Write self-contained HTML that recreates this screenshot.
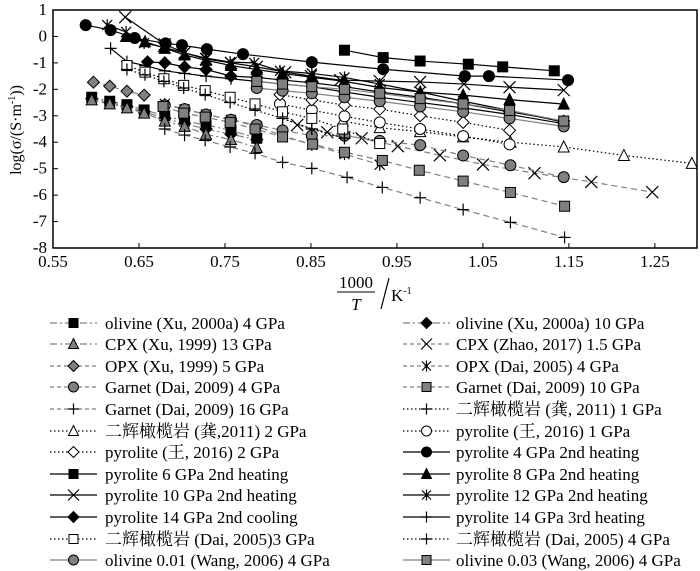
<!DOCTYPE html>
<html><head><meta charset="utf-8">
<style>
html,body{margin:0;padding:0;background:#fff;}
svg{display:block;font-family:"Liberation Serif","Noto Serif CJK SC",serif;}
</style></head>
<body>
<svg id="chart" width="700" height="571" viewBox="0 0 700 571" xmlns="http://www.w3.org/2000/svg">
  <g id="series-layer"></g>
  <rect x="53" y="10" width="644" height="238" fill="none" stroke="#000" stroke-width="1.5"/>
  <g id="axes"></g>
  <text transform="translate(21,130) rotate(-90)" text-anchor="middle" font-size="16">log(σ/(S·m<tspan font-size="10" dy="-6">-1</tspan><tspan dy="6">))</tspan></text>
  <g font-size="17">
    <text x="356" y="288" text-anchor="middle">1000</text>
    <line x1="337" y1="292" x2="375" y2="292" stroke="#000" stroke-width="1"/>
    <text x="356" y="310" text-anchor="middle" font-style="italic">T</text>
    <line x1="381" y1="309" x2="389" y2="278" stroke="#000" stroke-width="1.2"/>
    <text x="391" y="301">K<tspan font-size="10" dy="-7">-1</tspan></text>
  </g>
  <g id="legend"></g>
</svg>
<script>
const xTicks = [0.55,0.65,0.75,0.85,0.95,1.05,1.15,1.25];
const xTickLabels = ["0.55","0.65","0.75","0.85","0.95","1.05","1.15","1.25"];
const yTicks = [1,0,-1,-2,-3,-4,-5,-6,-7,-8];
const yTickLabels = ["1","0","-1","-2","-3","-4","-5","-6","-7","-8"];

// series data (x = 1000/T, y = log sigma)
const olXu4x = [0.595,0.616,0.636,0.656,0.68,0.703,0.728,0.757,0.787];
const olXu4y = [-2.3,-2.45,-2.58,-2.78,-3.0,-3.2,-3.35,-3.55,-3.85];
const olXu10x = [0.595,0.616,0.636,0.656,0.68,0.703,0.728,0.757,0.787];
const olXu10y = [-2.35,-2.5,-2.65,-2.85,-3.1,-3.3,-3.5,-3.7,-3.9];
const cpxXux = [0.595,0.616,0.636,0.656,0.68,0.703,0.728,0.757,0.787];
const cpxXuy = [-2.4,-2.55,-2.7,-2.9,-3.2,-3.4,-3.7,-3.9,-4.2];
const cpxZhx = [0.834,0.869,0.909,0.951,1.0,1.05,1.11,1.176,1.247];
const cpxZhy = [-3.35,-3.62,-3.85,-4.15,-4.49,-4.84,-5.17,-5.5,-5.89];
const opxXux = [0.597,0.616,0.636,0.656];
const opxXuy = [-1.73,-1.88,-2.07,-2.22];
const opxDax = [0.68,0.703,0.728,0.757,0.787,0.817,0.851,0.889,0.93];
const opxDay = [-2.55,-2.75,-2.95,-3.15,-3.4,-3.75,-4.1,-4.45,-4.85];
const gt4x = [0.68,0.703,0.728,0.757,0.787,0.817,0.851,0.889,0.93,0.977,1.027,1.082,1.144];
const gt4y = [-2.6,-2.75,-2.95,-3.15,-3.35,-3.55,-3.75,-3.75,-3.95,-4.11,-4.5,-4.87,-5.32];
const gt10x = [0.678,0.702,0.727,0.756,0.785,0.817,0.852,0.889,0.933,0.976,1.027,1.082,1.145];
const gt10y = [-2.65,-2.9,-3.05,-3.25,-3.5,-3.8,-4.07,-4.38,-4.69,-5.06,-5.47,-5.9,-6.42];
const gt16x = [0.68,0.703,0.727,0.756,0.785,0.817,0.851,0.892,0.933,0.977,1.027,1.082,1.145];
const gt16y = [-3.5,-3.73,-3.93,-4.18,-4.42,-4.76,-4.99,-5.33,-5.71,-6.1,-6.55,-7.03,-7.6];
const gong1x = [0.817,0.851,0.889];
const gong1y = [-3.1,-3.5,-3.85];
const gong2x = [0.887,0.93,0.977,1.027,1.082,1.144,1.214,1.293];
const gong2y = [-3.2,-3.45,-3.6,-3.8,-4.0,-4.18,-4.5,-4.8];
const wang1x = [0.814,0.851,0.889,0.93,0.977,1.027,1.081];
const wang1y = [-2.55,-2.79,-3.02,-3.25,-3.5,-3.77,-4.08];
const wang2x = [0.814,0.851,0.889,0.93,0.977,1.027,1.081];
const wang2y = [-2.2,-2.4,-2.6,-2.75,-3.0,-3.25,-3.55];
const p4x = [0.588,0.617,0.645,0.681,0.70,0.729,0.771,0.851,0.934,1.029,1.057,1.149];
const p4y = [0.43,0.24,-0.06,-0.26,-0.33,-0.48,-0.67,-0.97,-1.24,-1.5,-1.5,-1.65];
const p6x = [0.889,0.934,0.977,1.033,1.073,1.133];
const p6y = [-0.52,-0.8,-0.93,-1.05,-1.15,-1.3];
const p8x = [0.635,0.657,0.68,0.703,0.728,0.757,0.787,0.817,0.852,0.889,0.93,0.977,1.027,1.081,1.144];
const p8y = [0.0,-0.2,-0.45,-0.7,-0.9,-1.1,-1.25,-1.4,-1.55,-1.7,-1.93,-2.1,-2.22,-2.39,-2.56];
const p10x = [0.634,0.68,0.703,0.728,0.757,0.787,0.82,0.85,0.884,0.93,0.977,1.028,1.081,1.144];
const p10y = [0.73,-0.3,-0.62,-0.85,-1.0,-1.15,-1.35,-1.5,-1.65,-1.69,-1.72,-1.8,-1.92,-2.03];
const p12x = [0.613,0.635,0.656,0.678,0.703,0.728,0.756,0.784,0.814,0.851,0.889,0.93,0.977,1.027,1.081,1.144];
const p12y = [0.43,0.17,-0.25,-0.4,-0.63,-0.82,-0.97,-1.0,-1.3,-1.4,-1.55,-1.8,-2.1,-2.45,-2.8,-3.24];
const p14cx = [0.66,0.68,0.703,0.728,0.757,0.787,0.817,0.851,0.889,0.93,0.977,1.027,1.081,1.144];
const p14cy = [-0.96,-1.0,-1.15,-1.25,-1.5,-1.55,-1.65,-1.75,-1.9,-2.1,-2.3,-2.55,-2.85,-3.2];
const p14hx = [0.617,0.636,0.657,0.68,0.703,0.728,0.757,0.787,0.817,0.851,0.889,0.93,0.977,1.027,1.081,1.144];
const p14hy = [-0.45,-0.95,-1.1,-1.3,-1.4,-1.5,-1.6,-1.7,-1.8,-1.9,-2.1,-2.3,-2.5,-2.7,-2.95,-3.3];
const dai3x = [0.636,0.657,0.679,0.702,0.727,0.756,0.785,0.817,0.851,0.887,0.93];
const dai3y = [-1.1,-1.35,-1.6,-1.85,-2.05,-2.3,-2.55,-2.85,-3.1,-3.5,-4.05];
const dai4x = [0.636,0.657,0.679,0.702,0.727,0.756,0.785,0.817,0.851,0.889];
const dai4y = [-1.25,-1.45,-1.7,-1.95,-2.2,-2.5,-2.79,-3.1,-3.5,-3.85];
const ol01x = [0.787,0.817,0.851,0.889,0.93,0.977,1.027,1.081,1.144];
const ol01y = [-1.95,-2.05,-2.15,-2.3,-2.45,-2.65,-2.85,-3.1,-3.4];
const ol03x = [0.787,0.817,0.851,0.889,0.93,0.977,1.027,1.081,1.144];
const ol03y = [-1.7,-1.8,-1.9,-2.0,-2.15,-2.35,-2.55,-2.8,-3.2];

const NS = "http://www.w3.org/2000/svg";
const X0=53, X1=697, Y0=248, Y1=10, XMIN=0.55, XMAX=1.299, YMIN=-8, YMAX=1;
function sx(v){return X0+(v-XMIN)/(XMAX-XMIN)*(X1-X0);}
function sy(v){return Y0-(v-YMIN)/(YMAX-YMIN)*(Y0-Y1);}
function mk(tag,attrs,parent){const e=document.createElementNS(NS,tag);for(const k in attrs)e.setAttribute(k,attrs[k]);parent.appendChild(e);return e;}

const G="#808080";
const DASH="6,4", DASHDOT="7,3,2,3", DOT="1.5,2.5";
const series = [
 {name:"olivine (Xu, 2000a) 4 GPa",xs:olXu4x,ys:olXu4y,m:"square",f:"#000",lc:G,d:DASHDOT,col:0,row:0},
 {name:"olivine (Xu, 2000a) 10 GPa",xs:olXu10x,ys:olXu10y,m:"diamond",f:"#000",lc:G,d:DASHDOT,col:1,row:0},
 {name:"CPX (Xu, 1999) 13 GPa",xs:cpxXux,ys:cpxXuy,m:"triangle",f:G,lc:G,d:DASHDOT,col:0,row:1},
 {name:"CPX (Zhao, 2017) 1.5 GPa",xs:cpxZhx,ys:cpxZhy,m:"x",f:"none",lc:G,d:DASH,col:1,row:1},
 {name:"OPX (Xu, 1999) 5 GPa",xs:opxXux,ys:opxXuy,m:"diamond",f:G,lc:G,d:DASH,col:0,row:2},
 {name:"OPX (Dai, 2005) 4 GPa",xs:opxDax,ys:opxDay,m:"asterisk",f:"none",lc:G,d:DASH,col:1,row:2},
 {name:"Garnet (Dai, 2009) 4 GPa",xs:gt4x,ys:gt4y,m:"circle",f:G,lc:G,d:DASH,col:0,row:3},
 {name:"Garnet (Dai, 2009) 10 GPa",xs:gt10x,ys:gt10y,m:"square",f:G,lc:G,d:DASH,col:1,row:3},
 {name:"Garnet (Dai, 2009) 16 GPa",xs:gt16x,ys:gt16y,m:"plus",f:"none",lc:G,d:DASH,col:0,row:4},
 {name:"二辉橄榄岩 (龚, 2011) 1 GPa",xs:gong1x,ys:gong1y,m:"plus",f:"none",lc:"#000",d:DOT,col:1,row:4},
 {name:"二辉橄榄岩 (龚,2011) 2 GPa",xs:gong2x,ys:gong2y,m:"triangle",f:"#fff",lc:"#000",d:DOT,col:0,row:5},
 {name:"pyrolite (王, 2016) 1 GPa",xs:wang1x,ys:wang1y,m:"circle",f:"#fff",lc:"#000",d:DOT,col:1,row:5},
 {name:"pyrolite (王, 2016) 2 GPa",xs:wang2x,ys:wang2y,m:"diamond",f:"#fff",lc:"#000",d:DOT,col:0,row:6},
 {name:"pyrolite 4 GPa 2nd heating",xs:p4x,ys:p4y,m:"circle",f:"#000",lc:"#000",d:"",col:1,row:6},
 {name:"pyrolite 6 GPa 2nd heating",xs:p6x,ys:p6y,m:"square",f:"#000",lc:"#000",d:"",col:0,row:7},
 {name:"pyrolite 8 GPa 2nd heating",xs:p8x,ys:p8y,m:"triangle",f:"#000",lc:"#000",d:"",col:1,row:7},
 {name:"pyrolite 10 GPa  2nd heating",xs:p10x,ys:p10y,m:"x",f:"none",lc:"#000",d:"",col:0,row:8},
 {name:"pyrolite 12 GPa 2nd heating",xs:p12x,ys:p12y,m:"asterisk",f:"none",lc:"#000",d:"",col:1,row:8},
 {name:"pyrolite 14 GPa 2nd cooling",xs:p14cx,ys:p14cy,m:"diamond",f:"#000",lc:"#000",d:"",col:0,row:9},
 {name:"pyrolite 14 GPa 3rd heating",xs:p14hx,ys:p14hy,m:"plus",f:"none",lc:"#000",d:"",col:1,row:9},
 {name:"二辉橄榄岩 (Dai, 2005)3 GPa",xs:dai3x,ys:dai3y,m:"square",f:"#fff",lc:"#000",d:DOT,col:0,row:10},
 {name:"二辉橄榄岩 (Dai, 2005) 4 GPa",xs:dai4x,ys:dai4y,m:"plus",f:"none",lc:"#000",d:DOT,col:1,row:10},
 {name:"olivine 0.01 (Wang, 2006) 4 GPa",xs:ol01x,ys:ol01y,m:"circle",f:G,lc:G,d:"",col:0,row:11},
 {name:"olivine 0.03 (Wang, 2006) 4 GPa",xs:ol03x,ys:ol03y,m:"square",f:G,lc:G,d:"",col:1,row:11}
];

function marker(type,x,y,fill,parent,s){
  const st="#000";
  let e;
  if(type==="square") e=mk("rect",{x:x-s,y:y-s,width:2*s,height:2*s,fill:fill,stroke:st,"stroke-width":1},parent);
  else if(type==="circle") e=mk("circle",{cx:x,cy:y,r:s+0.5,fill:fill,stroke:st,"stroke-width":1},parent);
  else if(type==="triangle") e=mk("polygon",{points:`${x},${y-s-1} ${x+s+0.5},${y+s} ${x-s-0.5},${y+s}`,fill:fill,stroke:st,"stroke-width":1},parent);
  else if(type==="diamond") e=mk("polygon",{points:`${x},${y-s-1} ${x+s+1},${y} ${x},${y+s+1} ${x-s-1},${y}`,fill:fill,stroke:st,"stroke-width":1},parent);
  else if(type==="x") e=mk("path",{d:`M${x-s-1},${y-s-1}L${x+s+1},${y+s+1}M${x-s-1},${y+s+1}L${x+s+1},${y-s-1}`,stroke:"#000","stroke-width":1.2,fill:"none"},parent);
  else if(type==="plus") e=mk("path",{d:`M${x-s-1},${y}L${x+s+1},${y}M${x},${y-s-1}L${x},${y+s+1}`,stroke:"#000","stroke-width":1.2,fill:"none"},parent);
  else if(type==="asterisk") e=mk("path",{d:`M${x-s},${y-s}L${x+s},${y+s}M${x-s},${y+s}L${x+s},${y-s}M${x},${y-s-1}L${x},${y+s+1}`,stroke:"#000","stroke-width":1.2,fill:"none"},parent);
  return e;
}

// axes
const ax=document.getElementById("axes");
xTicks.forEach((t,i)=>{
  const l=mk("line",{x1:sx(t),x2:sx(t),y1:Y0,y2:Y0-5,stroke:"#000","stroke-width":1},ax);
  
  
  const tx=mk("text",{x:sx(t),y:Y0+19,"text-anchor":"middle","font-size":17},ax);
  tx.textContent=xTickLabels[i];
  
  
});
yTicks.forEach((t,i)=>{
  const l=mk("line",{x1:X0,x2:X0+5,y1:sy(t),y2:sy(t),stroke:"#000","stroke-width":1},ax);
  
  
  const tx=mk("text",{x:X0-6,y:sy(t)+5,"text-anchor":"end","font-size":17},ax);
  tx.textContent=yTickLabels[i];
  
  
});

// series
const layer=document.getElementById("series-layer");
const clip=mk("clipPath",{id:"pc"},layer);
mk("rect",{x:X0,y:Y1,width:X1-X0,height:Y0-Y1},clip);
series.forEach(s=>{
  const g=mk("g",{"clip-path":"url(#pc)"},layer);
  
  
  const pts=s.xs.map((v,i)=>sx(v)+","+sy(s.ys[i])).join(" ");
  const pl=mk("polyline",{points:pts,fill:"none",stroke:s.lc,"stroke-width":1.2},g);
  if(s.d) pl.setAttribute("stroke-dasharray",s.d);
  
  
  s.xs.forEach((v,i)=>{
    const m=marker(s.m,sx(v),sy(s.ys[i]),s.f,g,5);
    
    
  });
});

// legend
const lg=document.getElementById("legend");
const rowY=[323,344,366,387,409,431,452,474,495,517,539,560];
series.forEach(s=>{
  const lx = s.col===0?50:403, lx2 = s.col===0?97:450, tx = s.col===0?105:456;
  const y=rowY[s.row];
  const g=mk("g",{},lg);
  
  
  const l=mk("line",{x1:lx,x2:lx2,y1:y,y2:y,stroke:s.lc,"stroke-width":1.2},g);
  if(s.d) l.setAttribute("stroke-dasharray",s.d==="6,4"?"4,3":s.d);
  marker(s.m,(lx+lx2)/2,y,s.f,g,4.5);
  const t=mk("text",{x:tx,y:y+6,"font-size":17},g);
  t.textContent=s.name;
});
</script>
</body></html>
